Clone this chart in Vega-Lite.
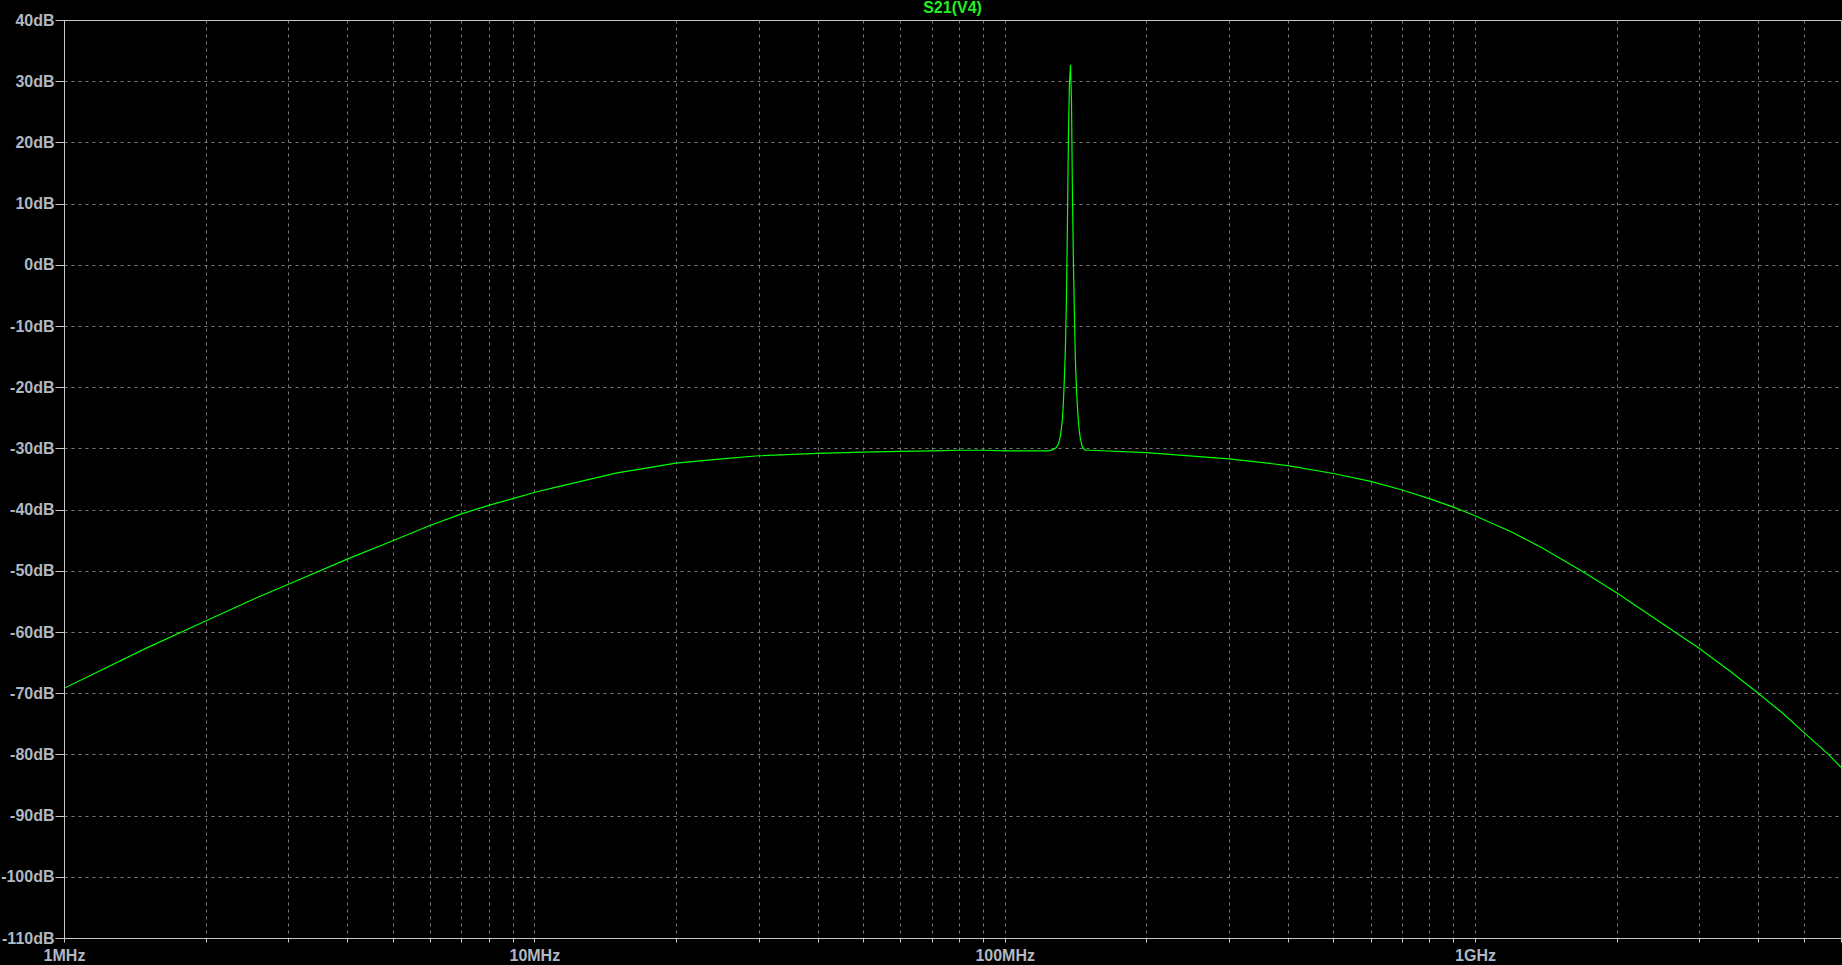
{
  "$schema": "https://vega.github.io/schema/vega-lite/v6.json",
  "width": 1777,
  "height": 918,
  "autosize": {"type": "none"},
  "padding": {"left": 64, "top": 20, "right": 1, "bottom": 27},
  "background": "#000000",
  "title": {
    "text": "S21(V4)",
    "color": "#22ee22",
    "font": "Liberation Sans",
    "fontSize": 16,
    "fontWeight": "bold",
    "anchor": "middle",
    "frame": "group",
    "offset": 0,
    "dy": 17,
    "baseline": "alphabetic"
  },
  "config": {
    "view": {"stroke": "#c8c8c8", "strokeWidth": 1, "fill": "#000000"},
    "axis": {
      "labelFont": "Liberation Sans",
      "labelFontWeight": "bold",
      "labelFontSize": 16,
      "labelColor": "#b0b8c2",
      "tickColor": "#c8c8c8",
      "domainColor": "#c8c8c8",
      "gridColor": "#7a7a7a",
      "gridDash": [3, 4],
      "gridWidth": 1,
      "title": null
    }
  },
  "data": {
    "values": [
      {"freq_MHz": 1, "dB": -69.2},
      {"freq_MHz": 1.5, "dB": -62.6},
      {"freq_MHz": 2, "dB": -58.2},
      {"freq_MHz": 2.5, "dB": -54.8},
      {"freq_MHz": 3, "dB": -52.2},
      {"freq_MHz": 4, "dB": -48.1},
      {"freq_MHz": 5, "dB": -45.1},
      {"freq_MHz": 6, "dB": -42.6},
      {"freq_MHz": 7, "dB": -40.7},
      {"freq_MHz": 8, "dB": -39.3},
      {"freq_MHz": 9, "dB": -38.2},
      {"freq_MHz": 10, "dB": -37.2},
      {"freq_MHz": 11.3, "dB": -36.2},
      {"freq_MHz": 15, "dB": -34.0},
      {"freq_MHz": 20, "dB": -32.4},
      {"freq_MHz": 25, "dB": -31.7},
      {"freq_MHz": 30, "dB": -31.2},
      {"freq_MHz": 40, "dB": -30.8},
      {"freq_MHz": 50, "dB": -30.6},
      {"freq_MHz": 60, "dB": -30.5},
      {"freq_MHz": 70, "dB": -30.4},
      {"freq_MHz": 80, "dB": -30.3},
      {"freq_MHz": 90, "dB": -30.3},
      {"freq_MHz": 100, "dB": -30.4},
      {"freq_MHz": 110, "dB": -30.4},
      {"freq_MHz": 120, "dB": -30.4},
      {"freq_MHz": 123.9, "dB": -30.4},
      {"freq_MHz": 126.7, "dB": -30.2},
      {"freq_MHz": 128.6, "dB": -29.9},
      {"freq_MHz": 130.1, "dB": -29.3},
      {"freq_MHz": 130.7, "dB": -28.7},
      {"freq_MHz": 131.4, "dB": -27.9},
      {"freq_MHz": 132.0, "dB": -26.7},
      {"freq_MHz": 132.7, "dB": -25.2},
      {"freq_MHz": 133.3, "dB": -22.6},
      {"freq_MHz": 134.0, "dB": -18.2},
      {"freq_MHz": 134.6, "dB": -13.8},
      {"freq_MHz": 135.3, "dB": -5.9},
      {"freq_MHz": 136.0, "dB": 7.2},
      {"freq_MHz": 136.6, "dB": 20.4},
      {"freq_MHz": 137.3, "dB": 29.5},
      {"freq_MHz": 138.0, "dB": 32.7},
      {"freq_MHz": 138.7, "dB": 26.6},
      {"freq_MHz": 139.3, "dB": 12.5},
      {"freq_MHz": 140.0, "dB": 0.5},
      {"freq_MHz": 140.7, "dB": -8.0},
      {"freq_MHz": 141.4, "dB": -15.7},
      {"freq_MHz": 142.1, "dB": -20.3},
      {"freq_MHz": 142.8, "dB": -23.2},
      {"freq_MHz": 143.5, "dB": -25.7},
      {"freq_MHz": 144.2, "dB": -27.3},
      {"freq_MHz": 144.9, "dB": -28.5},
      {"freq_MHz": 145.6, "dB": -29.1},
      {"freq_MHz": 146.3, "dB": -29.8},
      {"freq_MHz": 148.3, "dB": -30.3},
      {"freq_MHz": 152, "dB": -30.3},
      {"freq_MHz": 200, "dB": -30.7},
      {"freq_MHz": 300, "dB": -31.7},
      {"freq_MHz": 400, "dB": -32.8},
      {"freq_MHz": 500, "dB": -34.1},
      {"freq_MHz": 600, "dB": -35.4},
      {"freq_MHz": 700, "dB": -36.8},
      {"freq_MHz": 800, "dB": -38.2},
      {"freq_MHz": 900, "dB": -39.6},
      {"freq_MHz": 1000, "dB": -41.0},
      {"freq_MHz": 1200, "dB": -43.7},
      {"freq_MHz": 1400, "dB": -46.4},
      {"freq_MHz": 1700, "dB": -50.2},
      {"freq_MHz": 2000, "dB": -53.6},
      {"freq_MHz": 2500, "dB": -58.6},
      {"freq_MHz": 3000, "dB": -62.7},
      {"freq_MHz": 3500, "dB": -66.5},
      {"freq_MHz": 4000, "dB": -70.0},
      {"freq_MHz": 4500, "dB": -73.2},
      {"freq_MHz": 5000, "dB": -76.4},
      {"freq_MHz": 5643, "dB": -80.0},
      {"freq_MHz": 6000, "dB": -82.1}
    ]
  },
  "layer": [
    {
      "mark": {"type": "line", "opacity": 0, "clip": true},
      "encoding": {
        "x": {
          "field": "freq_MHz",
          "type": "quantitative",
          "scale": {"type": "log", "domain": [1, 6000], "nice": false},
          "axis": {
            "orient": "bottom",
            "values": [1, 2, 3, 4, 5, 6, 7, 8, 9, 10, 20, 30, 40, 50, 60, 70, 80, 90, 100, 200, 300, 400, 500, 600, 700, 800, 900, 1000, 2000, 3000, 4000, 5000, 6000],
            "grid": false,
            "ticks": true,
            "tickSize": 4,
            "labels": true,
            "labelOverlap": false,
            "labelFlush": false,
            "labelPadding": 5,
            "labelExpr": "datum.value == 1 ? '1MHz' : datum.value == 10 ? '10MHz' : datum.value == 100 ? '100MHz' : datum.value == 1000 ? '1GHz' : ''",
            "domain": true,
            "zindex": 1
          }
        },
        "y": {
          "field": "dB",
          "type": "quantitative",
          "scale": {"domain": [-110, 40], "nice": false, "zero": false},
          "axis": {
            "orient": "left",
            "values": [-110, -100, -90, -80, -70, -60, -50, -40, -30, -20, -10, 0, 10, 20, 30, 40],
            "grid": false,
            "ticks": true,
            "tickSize": 9,
            "labels": true,
            "labelPadding": 1,
            "labelOverlap": false,
            "labelFlush": false,
            "labelExpr": "datum.value + 'dB'",
            "domain": true,
            "zindex": 1
          }
        }
      }
    },
    {
      "mark": {"type": "line", "color": "#00ff00", "strokeWidth": 1.2, "clip": true},
      "encoding": {
        "x": {
          "field": "freq_MHz",
          "type": "quantitative",
          "scale": {"type": "log", "domain": [1, 6000], "nice": false},
          "axis": {
            "orient": "bottom",
            "values": [2, 3, 4, 5, 6, 7, 8, 9, 10, 20, 30, 40, 50, 60, 70, 80, 90, 100, 200, 300, 400, 500, 600, 700, 800, 900, 1000, 2000, 3000, 4000, 5000],
            "grid": true,
            "ticks": false,
            "labels": false,
            "domain": false,
            "zindex": 0
          }
        },
        "y": {
          "field": "dB",
          "type": "quantitative",
          "scale": {"domain": [-110, 40], "nice": false, "zero": false},
          "axis": {
            "orient": "left",
            "values": [-100, -90, -80, -70, -60, -50, -40, -30, -20, -10, 0, 10, 20, 30],
            "grid": true,
            "ticks": false,
            "labels": false,
            "domain": false,
            "zindex": 0
          }
        }
      }
    }
  ],
  "resolve": {"axis": {"x": "independent", "y": "independent"}}
}
